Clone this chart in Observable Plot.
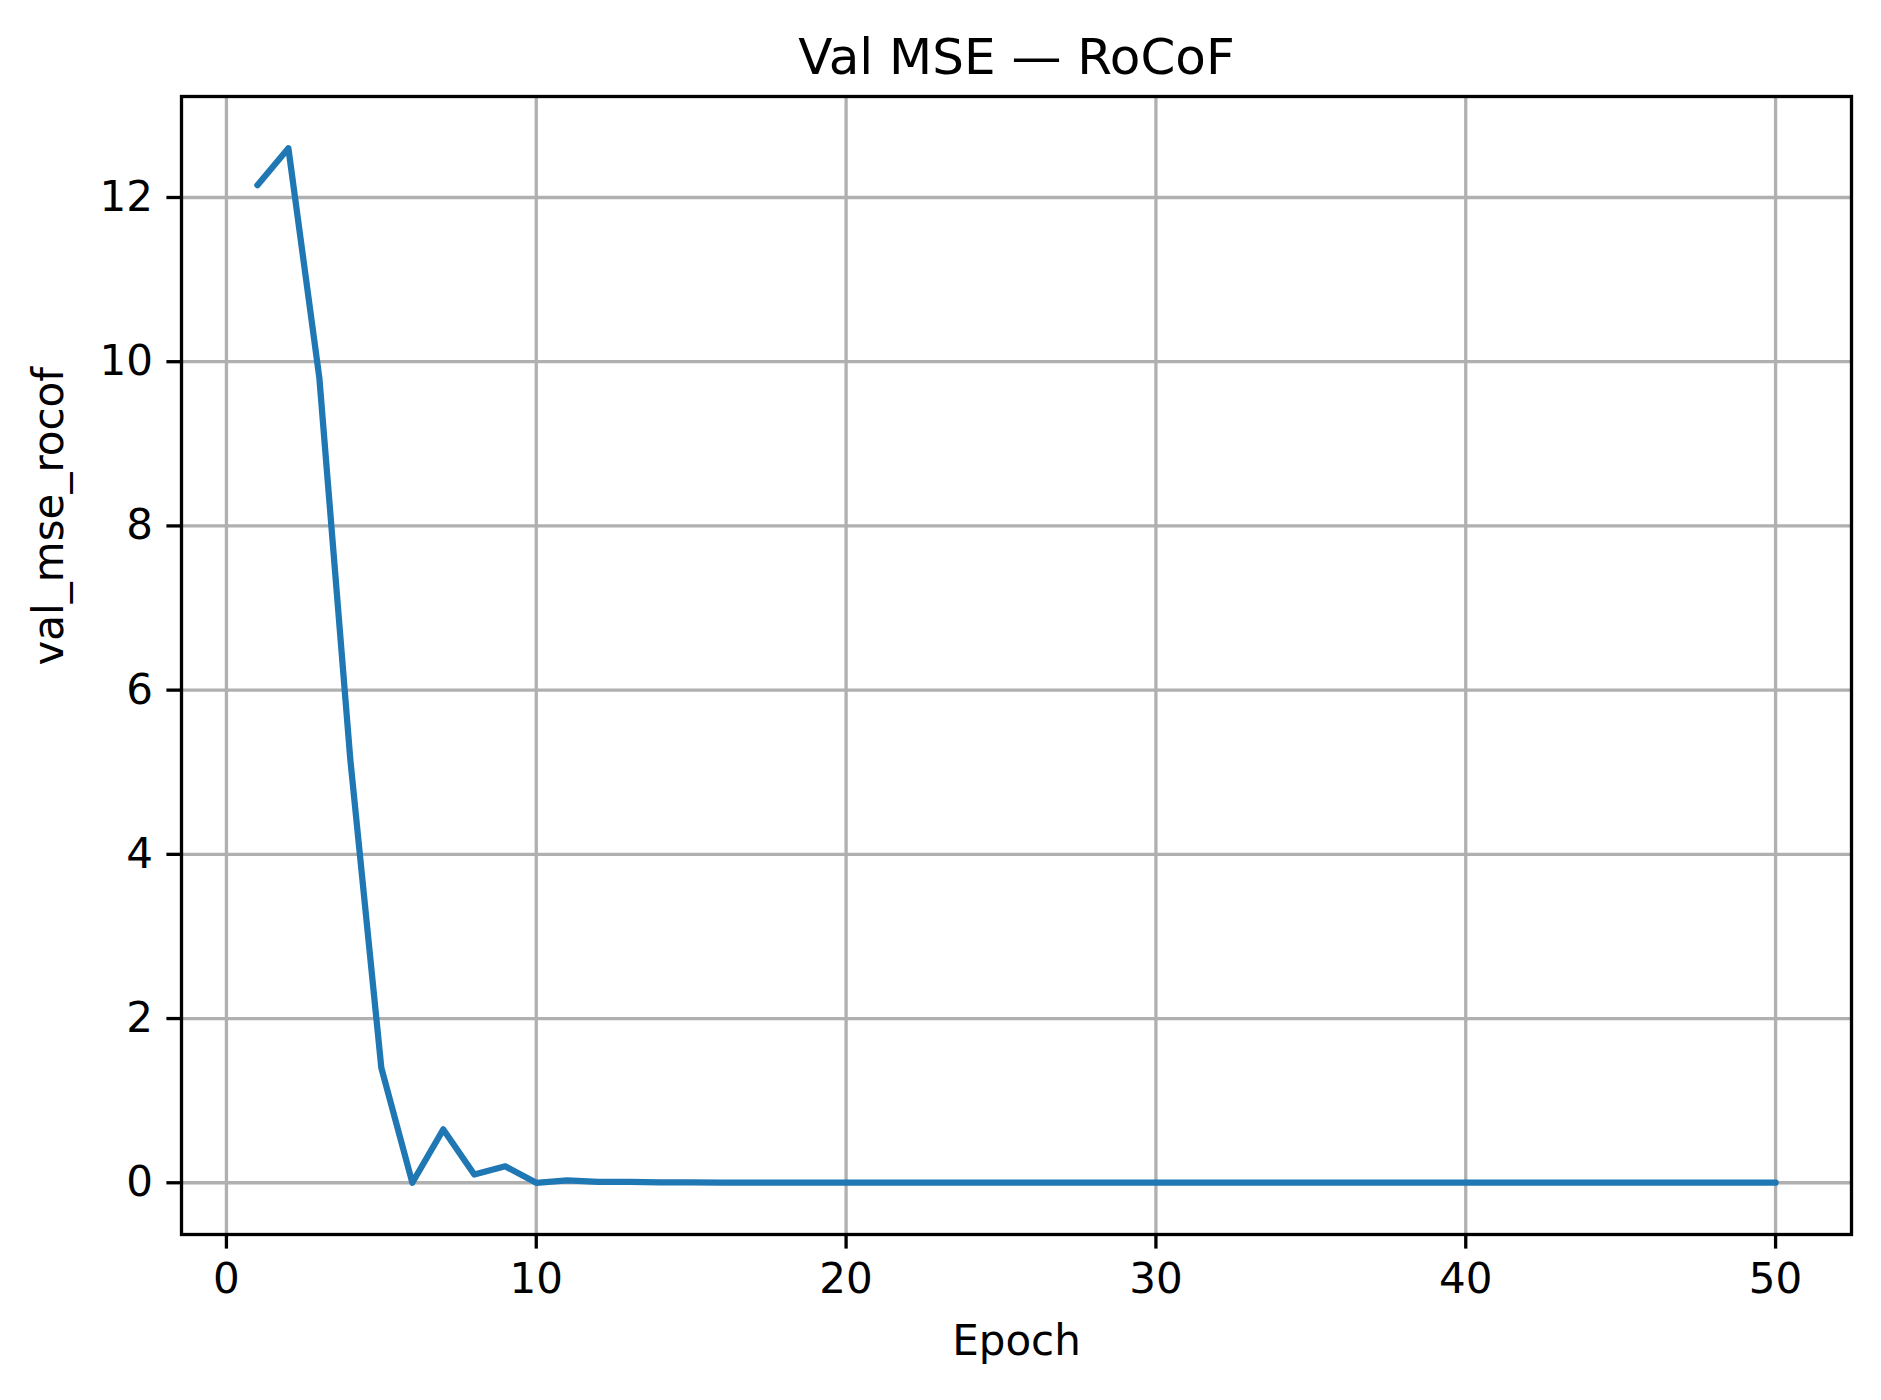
<!DOCTYPE html>
<html>
<head>
<meta charset="utf-8">
<script src="https://cdn.jsdelivr.net/npm/d3@7"></script>
<script src="https://cdn.jsdelivr.net/npm/@observablehq/plot@0.6"></script>
<style>
  body { margin: 0; background: #fff; }
  #chart svg { display: block; }
</style>
</head>
<body>
<div id="chart"></div>
<script>
const epochs = d3.range(1, 51);
const mse = [12.15, 12.6, 9.8, 5.15, 1.4, 0.0, 0.65, 0.1, 0.2, 0.0,
  0.03, 0.01, 0.012, 0.006, 0.004, 0.002, 0.002, 0.001, 0.001, 0.001,
  0.001, 0.001, 0.001, 0.001, 0.001, 0.001, 0.001, 0.001, 0.001, 0.001,
  0.001, 0.001, 0.001, 0.001, 0.001, 0.001, 0.001, 0.001, 0.001, 0.001,
  0.001, 0.001, 0.001, 0.001, 0.001, 0.001, 0.001, 0.001, 0.001, 0.001];
const xTicks = [0, 10, 20, 30, 40, 50];
const yTicks = [0, 2, 4, 6, 8, 10, 12];

const data = epochs.map((e, i) => ({epoch: e, value: mse[i]}));

let chart = Plot.plot({
  width: 1881,
  height: 1400,
  marginTop: 96,
  marginLeft: 181,
  marginRight: 30,
  marginBottom: 166,
  style: {fontFamily: "DejaVu Sans", fontSize: "42px", color: "#000", background: "#fff"},
  x: {domain: [-1.45, 52.45]},
  y: {domain: [-0.63, 13.23]},
  marks: [
    Plot.gridX(xTicks, {stroke: "#b0b0b0", strokeOpacity: 1, strokeWidth: 3.3}),
    Plot.gridY(yTicks, {stroke: "#b0b0b0", strokeOpacity: 1, strokeWidth: 3.3}),
    Plot.axisX(xTicks, {tickSize: 14.6, tickPadding: 14, strokeWidth: 3.3, tickFormat: "d", label: null}),
    Plot.axisY(yTicks, {tickSize: 14.6, tickPadding: 14, strokeWidth: 3.3, tickFormat: "d", label: null}),
    Plot.line(data, {x: "epoch", y: "value", stroke: "#1f77b4", strokeWidth: 6.25}),
    Plot.frame({stroke: "#000", strokeWidth: 3.3}),
    Plot.text(["Val MSE — RoCoF"], {frameAnchor: "top", dy: -58, fontSize: 50, fill: "#000"}),
    Plot.text(["Epoch"], {frameAnchor: "bottom", dy: 120, fontSize: 42, fill: "#000"}),
    Plot.text(["val_mse_rocof"], {frameAnchor: "left", dx: -132, rotate: -90, fontSize: 42, fill: "#000"})
  ]
})
d3.select('#chart').append(() => chart)
</script>
</body>
</html>
